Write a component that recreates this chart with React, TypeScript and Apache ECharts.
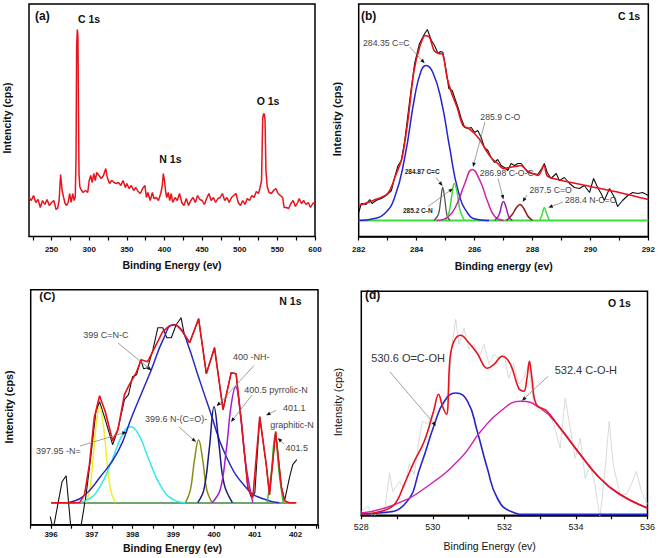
import React, { useEffect, useRef } from 'react';
import * as echarts from 'echarts';

const FONT = '"Liberation Sans", Arial, Helvetica, sans-serif';

// ---------- (a) survey ----------
const surveySpectrum: number[][] = [
  [220,39],[223,36],[226,41],[229,34],[232,37],[235,29],[238,36],[241,32],[244,37],[247,31],[250,34],[253,36],[256,27],[258,28],[260,36],[262,62],[264,46],[266,39],[268,33],[270,31],[272,34],[274,43],[276,34],[278,43],[280,36],[281.5,40],[282.5,80],[283.3,190],[284.2,207],[285,201],[285.8,120],[286.5,62],[287.5,50],[289,47],[292,44],[295,46],[298,44],[300,56],[302,61],[304,54],[306,63],[308,56],[310,64],[313,61],[316,58],[319,61],[322,68],[324,59],[327,53],[330,56],[333,54],[336,53],[339,54],[342,51],[345,56],[348,49],[350,53],[353,48],[356,51],[359,46],[362,49],[365,45],[368,43],[371,48],[374,51],[376,39],[378,44],[381,36],[384,44],[386,38],[389,39],[392,36],[395,43],[397,50],[398.5,63],[400,56],[401.5,45],[403,39],[405,44],[407,36],[409,43],[411,34],[414,39],[417,36],[420,43],[423,34],[426,31],[429,38],[432,31],[435,36],[438,39],[441,34],[444,41],[447,37],[450,36],[453,32],[456,38],[459,43],[462,36],[465,39],[468,34],[471,38],[474,39],[477,43],[480,36],[483,39],[486,34],[489,39],[492,41],[495,43],[498,34],[501,31],[504,36],[507,32],[510,38],[513,36],[516,41],[519,39],[522,45],[525,43],[527,49],[529,56],[530.5,118],[531.5,122],[532.5,123],[533.6,117],[534.8,66],[536.5,50],[539,44],[542,43],[545,46],[548,48],[551,43],[554,41],[557,39],[559,29],[562,29],[565,28],[568,33],[571,36],[574,30],[577,34],[579,38],[582,33],[585,36],[588,32],[591,34],[594,29],[597,33],[600,34]
];

// ---------- (b) C 1s ----------
const c1sRaw: number[][] = [
  [282.0,24],[282.09,33],[282.26,32],[282.38,37],[282.46,33],[282.6,36],[282.78,38],[282.95,41],[283.13,46],[283.24,59],[283.36,71],[283.47,76],[283.59,96],[283.76,136],[283.93,173],[284.1,193],[284.28,203],[284.37,207],[284.51,196],[284.62,191],[284.74,183],[284.83,185],[284.91,184],[285.02,166],[285.11,148],[285.23,146],[285.31,139],[285.43,129],[285.54,118],[285.66,109],[285.77,108],[285.89,109],[286.0,104],[286.11,106],[286.23,99],[286.34,89],[286.46,86],[286.57,79],[286.69,74],[286.8,77],[286.92,71],[287.03,69],[287.15,66],[287.26,73],[287.38,71],[287.49,73],[287.61,73],[287.72,69],[287.84,64],[288.01,63],[288.18,62],[288.32,68],[288.41,73],[288.51,64],[288.64,58],[288.82,63],[288.93,56],[289.1,59],[289.28,53],[289.45,49],[289.62,48],[289.79,51],[289.97,44],[290.11,58],[290.25,49],[290.37,43],[290.48,36],[290.66,48],[290.83,39],[290.94,30],[291.11,36],[291.29,41],[291.46,44],[291.63,43],[291.8,44],[292.0,41]
];
const c1sFit: number[][] = [
  [282.0,31],[282.5,36],[283.0,43],[283.3,63],[283.5,79],[283.7,116],[283.9,164],[284.1,189],[284.3,201],[284.45,199],[284.6,186],[284.75,183],[284.9,182],[285.05,159],[285.2,144],[285.4,129],[285.6,111],[285.8,108],[286.0,103],[286.2,96],[286.4,86],[286.6,78],[286.8,73],[287.0,68],[287.2,69],[287.4,70],[287.6,71],[287.8,66],[288.0,63],[288.2,61],[288.4,71],[288.5,61],[288.71,58],[290.0,50],[291.0,44],[292.0,37]
];
const c1sBaseline: number[][] = [[282,16],[292,16]];
const cCC: number[][] = [[282.0,16],[282.55,18],[282.9,23],[283.24,39],[283.59,79],[283.93,139],[284.16,166],[284.33,171],[284.56,164],[284.85,136],[285.14,89],[285.43,46],[285.77,23],[286.11,17],[286.5,16]];
const cCC2: number[][] = [[284.6,16],[284.75,22],[284.83,36],[284.9,49],[284.97,38],[285.05,21],[285.15,16]];
const cCN: number[][] = [[285.0,16],[285.12,24],[285.22,42],[285.3,53],[285.4,44],[285.5,26],[285.65,16]];
const cCO: number[][] = [[284.7,16],[285.1,20],[285.4,33],[285.65,52],[285.92,67],[286.2,55],[286.45,35],[286.7,20],[287.0,16]];
const cCOC: number[][] = [[286.7,16],[286.85,22],[286.95,33],[287.0,35],[287.08,30],[287.18,20],[287.3,16]];
const cCdO: number[][] = [[287.1,16],[287.3,22],[287.45,29],[287.57,32],[287.7,28],[287.85,20],[288.0,16]];
const cNCO: number[][] = [[288.25,16],[288.33,22],[288.41,29],[288.5,22],[288.58,16]];

// ---------- (c) N 1s ----------
const n1sRaw: number[][] = [
  [395.98,8],[396.05,-5],[396.27,43],[396.37,49],[396.49,-5],[396.7,-10],[396.74,0],[396.86,30],[396.98,70],[397.1,113],[397.19,123],[397.33,105],[397.51,80],[397.64,95],[397.8,125],[397.9,130],[398.0,148],[398.1,150],[398.2,165],[398.27,156],[398.37,157],[398.5,175],[398.62,197],[398.74,197],[398.84,187],[398.95,187],[399.07,200],[399.19,207],[399.27,190],[399.4,182],[399.62,206],[399.81,151],[400.01,177],[400.22,115],[400.42,152],[400.54,151],[400.67,102],[400.83,37],[400.92,27],[401.0,32],[401.12,108],[401.28,60],[401.36,30],[401.51,93],[401.65,38],[401.73,24],[401.85,47],[401.93,60],[402.03,65]
];
const n1sFit: number[][] = [
  [396.0,22],[396.7,22],[396.82,30],[396.94,60],[397.06,107],[397.19,129],[397.33,113],[397.51,84],[397.64,95],[397.8,130],[397.92,140],[398.09,152],[398.21,165],[398.37,163],[398.58,180],[398.74,193],[398.91,199],[399.07,200],[399.23,193],[399.4,182],[399.62,206],[399.81,151],[400.01,177],[400.22,115],[400.42,152],[400.54,151],[400.67,102],[400.83,37],[400.95,27],[401.12,108],[401.28,60],[401.36,30],[401.51,93],[401.65,38],[401.73,24],[401.85,22],[402.02,22]
];
const n1sBaseline: number[][] = [[396,21.7],[402,21.7]];
const nYellow: number[][] = [[396.85,22],[396.95,35],[397.05,75],[397.12,105],[397.19,118],[397.28,100],[397.37,65],[397.46,35],[397.58,22]];
const nPyridinic: number[][] = [[396.6,22],[396.9,25],[397.2,38],[397.5,65],[397.75,90],[397.94,98],[398.15,90],[398.4,65],[398.7,38],[399.0,25],[399.3,22]];
const nCNC: number[][] = [[396.4,22],[396.78,28],[397.19,47],[397.64,73],[398.0,110],[398.46,155],[398.75,185],[399.0,200],[399.2,195],[399.36,180],[399.6,150],[399.89,115],[400.3,68],[400.83,35],[401.2,26],[401.6,22]];
const nAmide: number[][] = [[399.3,22],[399.42,35],[399.52,65],[399.62,85],[399.72,65],[399.82,35],[399.95,22]];
const nNH: number[][] = [[399.6,22],[399.75,35],[399.88,75],[400.0,118],[400.12,80],[400.25,40],[400.45,22]];
const nPyrrolic: number[][] = [[399.95,22],[400.15,35],[400.3,75],[400.42,120],[400.53,138],[400.65,110],[400.78,60],[400.95,22]];
const nGraphitic: number[][] = [[401.3,22],[401.4,50],[401.5,90],[401.6,50],[401.7,22]];

// ---------- (d) O 1s ----------
const o1sRaw: number[][] = [
  [528,4],[528.19,9],[528.32,-3],[528.46,4],[528.65,4],[528.79,42],[528.88,24],[529.07,34],[529.2,27],[529.34,51],[529.48,41],[529.62,77],[529.71,94],[529.85,91],[529.99,101],[530.13,104],[530.32,111],[530.46,127],[530.52,167],[530.64,196],[530.73,171],[530.87,187],[531.01,166],[531.15,171],[531.29,157],[531.43,171],[531.57,151],[531.71,161],[531.85,157],[531.99,161],[532.12,137],[532.26,151],[532.4,131],[532.54,137],[532.68,151],[532.82,111],[533.0,104],[533.19,106],[533.38,91],[533.56,67],[533.7,117],[533.84,87],[533.98,57],[534.12,77],[534.26,37],[534.39,51],[534.53,31],[534.67,-3],[534.81,44],[534.93,94],[535.04,51],[535.23,21],[535.41,21],[535.55,31],[535.69,44],[535.83,24],[536,11]
];
const o1sFit: number[][] = [
  [528,1],[528.56,4],[528.93,11],[529.2,31],[529.48,54],[529.76,74],[530.02,104],[530.16,121],[530.27,109],[530.38,101],[530.48,157],[530.59,174],[530.78,180],[530.97,174],[531.24,162],[531.52,147],[531.71,151],[531.94,159],[532.17,151],[532.4,127],[532.54,124],[532.63,137],[532.7,154],[532.77,137],[532.89,111],[533.19,104],[533.56,87],[534.12,61],[534.67,37],[535.23,21],[536,7]
];
const oCOOH: number[][] = [[528,1.3],[528.5,2.3],[529.2,10.6],[529.67,50.6],[530.04,90.6],[530.32,114],[530.64,122.3],[530.97,114],[531.24,84],[531.52,47.3],[531.8,17.3],[532.17,4],[532.63,1],[536,1]];
const oCOH: number[][] = [[528,2.3],[528.93,10.6],[529.85,29],[530.78,57.3],[531.34,84],[531.89,104],[532.45,114],[533.0,107.3],[533.56,87.3],[534.12,60.6],[534.67,37.3],[535.23,20.6],[536,7.3]];

const RED = '#e8121a';

function line(data: number[][], idx: number, color: string, width: number, smooth: number | boolean = false, z = 2) {
  return {
    type: 'line', data, xAxisIndex: idx, yAxisIndex: idx, showSymbol: false, symbol: 'none',
    smooth, clip: true, z, silent: true,
    lineStyle: { color, width }, itemStyle: { color },
  };
}

function txt(text: string, x: number, y: number, size: number, opt: any = {}) {
  return {
    type: 'text', x, y, rotation: opt.rotate || 0, z: 100, silent: true,
    style: {
      text, fill: opt.color || '#111', fontSize: size, fontFamily: FONT,
      fontWeight: opt.bold ? 'bold' : 'normal',
      textAlign: opt.align || 'left', textVerticalAlign: 'middle',
    },
  };
}

function arrow(x1: number, y1: number, x2: number, y2: number) {
  const a = Math.atan2(y2 - y1, x2 - x1);
  const L = 4.5, W = 1.8;
  const bx = x2 - L * Math.cos(a), by = y2 - L * Math.sin(a);
  return [
    { type: 'line', z: 99, silent: true, shape: { x1, y1, x2: bx, y2: by }, style: { stroke: '#888', lineWidth: 0.8 } },
    { type: 'polygon', z: 99, silent: true, shape: { points: [[x2, y2], [bx + W * Math.sin(a), by - W * Math.cos(a)], [bx - W * Math.sin(a), by + W * Math.cos(a)]] }, style: { fill: '#111' } },
  ];
}

function xAx(gridIndex: number, min: number, max: number, interval: number, fmt: (v: number) => string, opts: any = {}) {
  return {
    type: 'value', gridIndex, min, max, interval,
    axisLine: { show: opts.line !== false, lineStyle: { color: '#000', width: 1.5 } },
    axisTick: { show: true, inside: false, length: 4, lineStyle: { color: '#000', width: 1.2 } },
    axisLabel: { formatter: fmt, margin: opts.margin ?? 8, fontSize: opts.size ?? 8, fontWeight: opts.bold === false ? 'normal' : 'bold', color: '#111', fontFamily: FONT },
    splitLine: { show: false },
  };
}

const isInt = (v: number) => Math.abs(v - Math.round(v)) < 1e-6;

export default function App() {
  const ref = useRef<HTMLDivElement>(null);
  useEffect(() => {
    const chart = echarts.init(ref.current!, null, { renderer: 'svg' });
    const frame = { show: true, borderColor: '#000', borderWidth: 1.5, backgroundColor: 'transparent' };
    const grids = [
      { left: 29, top: 4, width: 286, height: 232.5, ...frame },
      { left: 29 + 5 * 286 / 380, top: 4, width: 286 - 5 * 286 / 380, height: 232.5, show: false },
      { left: 358.7, top: 4, width: 290, height: 232.5, ...frame },
      { left: 30.7, top: 289.7, width: 287.3, height: 235, ...frame },
      { left: 361.3, top: 291.3, width: 287.7, height: 224, ...frame },
    ];
    const xAxes = [
      { type: 'value', gridIndex: 0, min: 220, max: 600, show: false },
      xAx(1, 225, 600, 25, (v) => (v % 50 === 0 ? String(v) : ''), { line: false, margin: 9 }),
      xAx(2, 282, 292, 1, (v) => (isInt(v) && Math.round(v) % 2 === 0 ? String(Math.round(v)) : ''), { margin: 9 }),
      xAx(3, 395.5, 402.55, 0.5, (v) => (isInt(v) ? String(Math.round(v)) : ''), { margin: 6 }),
      xAx(4, 528, 536, 1, (v) => (isInt(v) && Math.round(v) % 2 === 0 ? String(Math.round(v)) : ''), { margin: 7, bold: false, size: 9 }),
    ];
    const yr = [[0, 232.5], [0, 232.5], [0, 232.5], [0, 235], [0, 224]];
    const yAxes = yr.map((r, i) => ({ type: 'value', gridIndex: i, min: r[0], max: r[1], show: false }));

    const series = [
      line(surveySpectrum, 0, RED, 1.5),
      // (b)
      line(c1sBaseline, 2, '#3ddc3d', 2),
      line(cCC, 2, '#2424d0', 1.5, 0.5),
      line(cCC2, 2, '#555555', 1.3, 0.4),
      line(cCN, 2, '#3ddc3d', 1.5, 0.4),
      line(cCO, 2, '#d020b0', 1.5, 0.5),
      line(cCOC, 2, '#9a1fb0', 1.5, 0.4),
      line(cCdO, 2, '#8b1a1a', 1.5, 0.4),
      line(cNCO, 2, '#3ddc3d', 1.5, 0.3),
      line(c1sRaw, 2, '#111111', 1.1, false, 3),
      line(c1sFit, 2, RED, 1.6, 0.3, 4),
      // (c)
      line(n1sBaseline, 3, '#3d8a3d', 1.5),
      line(n1sRaw, 3, '#111111', 1.1, false, 2),
      line(nYellow, 3, '#f0f020', 1.5, 0.4, 3),
      line(nPyridinic, 3, '#30e8f0', 1.5, 0.5, 3),
      line(nCNC, 3, '#2828c0', 1.5, 0.5, 3),
      line(nAmide, 3, '#8c8c10', 1.5, 0.4, 3),
      line(nNH, 3, '#1a1a80', 1.5, 0.4, 3),
      line(nPyrrolic, 3, '#a020d0', 1.5, 0.4, 3),
      line(nGraphitic, 3, '#30c030', 1.5, 0.4, 3),
      line(n1sFit, 3, RED, 1.6, false, 5),
      // (d)
      line(o1sRaw, 4, '#cfcfcf', 0.8, false, 1),
      line(oCOOH, 4, '#2424d0', 1.6, 0.5, 3),
      line(oCOH, 4, '#d020b0', 1.4, 0.5, 3),
      line(o1sFit, 4, RED, 1.6, 0.4, 4),
    ];

    const gray = '#444';
    const graphic: any[] = [
      // (a)
      txt('(a)', 35, 16, 12, { bold: true }),
      txt('C 1s', 78, 18.5, 10.5, { bold: true }),
      txt('N 1s', 159.3, 158.5, 10.5, { bold: true }),
      txt('O 1s', 256.7, 100.5, 10.5, { bold: true }),
      txt('Intencity (cps)', 7, 118, 10.5, { bold: true, rotate: Math.PI / 2, align: 'center' }),
      txt('Binding Energy (ev)', 172, 265, 10.5, { bold: true, align: 'center' }),
      // (b)
      txt('(b)', 361, 15.5, 12, { bold: true }),
      txt('C 1s', 618, 15.5, 10.5, { bold: true }),
      txt('Intensity (cps)', 337, 119, 11, { bold: true, rotate: Math.PI / 2, align: 'center' }),
      txt('Binding energy (ev)', 503.7, 266, 10.5, { bold: true, align: 'center' }),
      txt('284.35 C=C', 363, 43.3, 8.7, { color: gray }),
      ...arrow(409.7, 47, 424.7, 63.3),
      txt('285.9 C-O', 480.3, 117, 8.7, { color: gray }),
      ...arrow(485, 122, 473, 167),
      txt('284.87 C=C', 404.7, 171.7, 6.5, { color: '#222', bold: true }),
      ...arrow(436, 177.5, 442.5, 186),
      txt('285.2 C-N', 403, 210, 6.5, { color: '#222', bold: true }),
      ...arrow(428, 206.5, 453, 188.5),
      txt('286.98 C-O-C', 479.7, 173.3, 8.7, { color: gray }),
      ...arrow(498, 178.5, 503.5, 199.5),
      txt('287.5 C=O', 529.5, 190, 8.7, { color: gray }),
      ...arrow(527, 195, 522.7, 202),
      txt('288.4 N-C=O', 565, 200, 8.7, { color: gray }),
      ...arrow(563.3, 202, 548.3, 207.5),
      // (c)
      txt('(C)', 39.3, 296, 11.5, { bold: true }),
      txt('N 1s', 279.3, 301.3, 10.5, { bold: true }),
      txt('Intencity (cps)', 9, 407, 10.8, { bold: true, rotate: Math.PI / 2, align: 'center' }),
      txt('Binding Energy (ev)', 172.5, 548, 10.5, { bold: true, align: 'center' }),
      txt('399 C=N-C', 83.3, 334.7, 9, { color: gray }),
      ...arrow(118, 343, 151.5, 370.5),
      txt('397.95 -N=', 36, 451.3, 9, { color: gray }),
      ...arrow(80, 446, 126.7, 432),
      txt('399.6 N-(C=O)-', 145, 418.5, 9, { color: gray }),
      ...arrow(179, 427, 196, 442),
      txt('400 -NH-', 233, 357, 9, { color: gray }),
      ...arrow(254, 365.5, 216.7, 406.3),
      txt('400.5 pyrrolic-N', 244.3, 390, 9, { color: gray }),
      ...arrow(252, 395, 231, 422),
      txt('401.1', 283, 408.3, 9, { color: gray }),
      ...arrow(276, 410.5, 266, 415.3),
      txt('graphitic-N', 270.3, 424.5, 9, { color: gray }),
      txt('401.5', 285.5, 447.7, 9, { color: gray }),
      ...arrow(284, 444, 277.8, 438),
      // (d)
      txt('(d)', 365, 294.5, 12, { bold: true }),
      txt('O 1s', 608, 303, 10.5, { bold: true }),
      txt('Intensity (cps)', 338, 402, 11, { rotate: Math.PI / 2, align: 'center' }),
      txt('Binding Energy (ev)', 489.7, 546, 10.5, { align: 'center' }),
      txt('530.6 O=C-OH', 371.3, 358, 11, { color: '#333' }),
      ...arrow(390, 372, 436, 426),
      txt('532.4 C-O-H', 554.7, 369.7, 11, { color: '#333' }),
      ...arrow(548, 376.3, 522, 400.7),
    ];

    chart.setOption({
      animation: false,
      backgroundColor: '#fff',
      textStyle: { fontFamily: FONT },
      grid: grids,
      xAxis: xAxes,
      yAxis: yAxes,
      series,
      graphic,
    });
    return () => chart.dispose();
  }, []);
  return <div ref={ref} style={{ position: 'fixed', left: 0, top: 0, width: 658, height: 558, background: '#fff' }} />;
}
